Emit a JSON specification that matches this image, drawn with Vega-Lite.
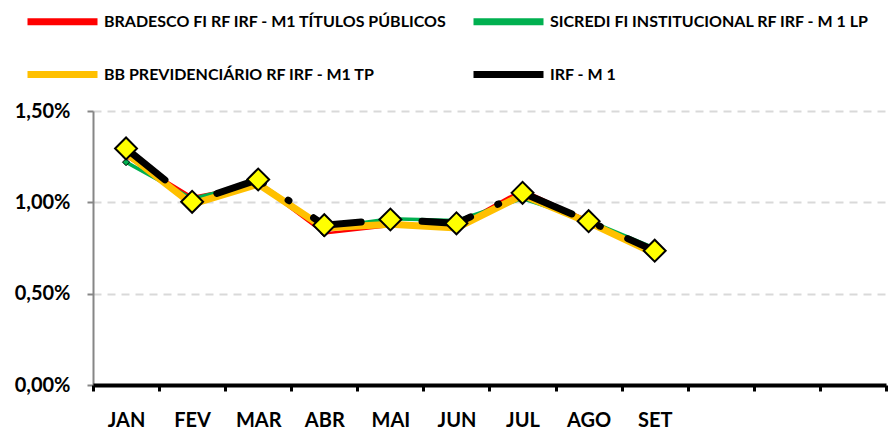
{
  "$schema": "https://vega.github.io/schema/vega-lite/v6.json",
  "autosize": "none",
  "width": 793,
  "height": 274,
  "padding": {"left": 93, "top": 111, "right": 2, "bottom": 45},
  "background": "white",
  "config": {
    "view": {"stroke": null},
    "font": "Lato, sans-serif"
  },
  "data": {
    "values": [
      {"m": "JAN", "s": "BRADESCO FI RF IRF - M1 TÍTULOS PÚBLICOS", "v": 0.0125},
      {"m": "FEV", "s": "BRADESCO FI RF IRF - M1 TÍTULOS PÚBLICOS", "v": 0.0103},
      {"m": "MAR", "s": "BRADESCO FI RF IRF - M1 TÍTULOS PÚBLICOS", "v": 0.0110},
      {"m": "ABR", "s": "BRADESCO FI RF IRF - M1 TÍTULOS PÚBLICOS", "v": 0.0083},
      {"m": "MAI", "s": "BRADESCO FI RF IRF - M1 TÍTULOS PÚBLICOS", "v": 0.0087},
      {"m": "JUN", "s": "BRADESCO FI RF IRF - M1 TÍTULOS PÚBLICOS", "v": 0.0087},
      {"m": "JUL", "s": "BRADESCO FI RF IRF - M1 TÍTULOS PÚBLICOS", "v": 0.0107},
      {"m": "AGO", "s": "BRADESCO FI RF IRF - M1 TÍTULOS PÚBLICOS", "v": 0.0090},
      {"m": "SET", "s": "BRADESCO FI RF IRF - M1 TÍTULOS PÚBLICOS", "v": 0.0071},
      {"m": "JAN", "s": "SICREDI FI INSTITUCIONAL RF IRF - M 1 LP", "v": 0.0122},
      {"m": "FEV", "s": "SICREDI FI INSTITUCIONAL RF IRF - M 1 LP", "v": 0.0102},
      {"m": "MAR", "s": "SICREDI FI INSTITUCIONAL RF IRF - M 1 LP", "v": 0.0111},
      {"m": "ABR", "s": "SICREDI FI INSTITUCIONAL RF IRF - M 1 LP", "v": 0.0086},
      {"m": "MAI", "s": "SICREDI FI INSTITUCIONAL RF IRF - M 1 LP", "v": 0.0091},
      {"m": "JUN", "s": "SICREDI FI INSTITUCIONAL RF IRF - M 1 LP", "v": 0.0090},
      {"m": "JUL", "s": "SICREDI FI INSTITUCIONAL RF IRF - M 1 LP", "v": 0.0102},
      {"m": "AGO", "s": "SICREDI FI INSTITUCIONAL RF IRF - M 1 LP", "v": 0.0090},
      {"m": "SET", "s": "SICREDI FI INSTITUCIONAL RF IRF - M 1 LP", "v": 0.0075},
      {"m": "JAN", "s": "BB PREVIDENCIÁRIO RF IRF - M1 TP", "v": 0.0127},
      {"m": "FEV", "s": "BB PREVIDENCIÁRIO RF IRF - M1 TP", "v": 0.0099},
      {"m": "MAR", "s": "BB PREVIDENCIÁRIO RF IRF - M1 TP", "v": 0.0110},
      {"m": "ABR", "s": "BB PREVIDENCIÁRIO RF IRF - M1 TP", "v": 0.0086},
      {"m": "MAI", "s": "BB PREVIDENCIÁRIO RF IRF - M1 TP", "v": 0.0088},
      {"m": "JUN", "s": "BB PREVIDENCIÁRIO RF IRF - M1 TP", "v": 0.0086},
      {"m": "JUL", "s": "BB PREVIDENCIÁRIO RF IRF - M1 TP", "v": 0.0104},
      {"m": "AGO", "s": "BB PREVIDENCIÁRIO RF IRF - M1 TP", "v": 0.0089},
      {"m": "SET", "s": "BB PREVIDENCIÁRIO RF IRF - M1 TP", "v": 0.0072},
      {"m": "JAN", "s": "IRF - M 1", "v": 0.01295},
      {"m": "FEV", "s": "IRF - M 1", "v": 0.01003},
      {"m": "MAR", "s": "IRF - M 1", "v": 0.01125},
      {"m": "ABR", "s": "IRF - M 1", "v": 0.00875},
      {"m": "MAI", "s": "IRF - M 1", "v": 0.00906},
      {"m": "JUN", "s": "IRF - M 1", "v": 0.00885},
      {"m": "JUL", "s": "IRF - M 1", "v": 0.01052},
      {"m": "AGO", "s": "IRF - M 1", "v": 0.00897},
      {"m": "SET", "s": "IRF - M 1", "v": 0.00735}
    ]
  },
  "encoding": {
    "x": {
      "field": "m",
      "type": "nominal",
      "bandPosition": 0.5,
      "scale": {
        "type": "band",
        "domain": ["JAN", "FEV", "MAR", "ABR", "MAI", "JUN", "JUL", "AGO", "SET", "OUT", "NOV", "DEZ"],
        "paddingInner": 0,
        "paddingOuter": 0
      },
      "axis": {
        "title": null,
        "labelAngle": 0,
        "labelExpr": "indexof(['OUT','NOV','DEZ'], datum.label) >= 0 ? '' : datum.label",
        "labelFont": "Lato, sans-serif",
        "labelFontSize": 20,
        "labelFontWeight": "bold",
        "labelColor": "#000000",
        "labelPadding": 19,
        "domainColor": "#000000",
        "domainWidth": 4,
        "tickColor": "#000000",
        "tickWidth": 3,
        "tickSize": 6,
        "tickBand": "extent",
        "grid": false,
        "zindex": 1
      }
    },
    "y": {
      "field": "v",
      "type": "quantitative",
      "scale": {"domain": [0, 0.015], "nice": false},
      "axis": {
        "title": null,
        "values": [0, 0.005, 0.01, 0.015],
        "labelExpr": "replace(format(datum.value, '.2%'), '.', ',')",
        "labelFont": "Lato, sans-serif",
        "labelFontSize": 20,
        "labelFontWeight": "bold",
        "labelColor": "#000000",
        "labelPadding": 17,
        "domainColor": "#868686",
        "domainWidth": 2,
        "tickColor": "#868686",
        "tickWidth": 2,
        "tickSize": 6,
        "grid": true,
        "gridColor": "#D9D9D9",
        "gridDash": [8, 6],
        "gridWidth": 2
      }
    }
  },
  "layer": [
    {
      "transform": [{"filter": "datum.s === 'BRADESCO FI RF IRF - M1 TÍTULOS PÚBLICOS'"}],
      "mark": {"type": "line", "strokeWidth": 2.5},
      "encoding": {
        "color": {
          "field": "s",
          "type": "nominal",
          "scale": {
            "domain": ["BRADESCO FI RF IRF - M1 TÍTULOS PÚBLICOS", "SICREDI FI INSTITUCIONAL RF IRF - M 1 LP", "BB PREVIDENCIÁRIO RF IRF - M1 TP", "IRF - M 1"],
            "range": ["#FF0000", "#00B050", "#FFC000", "#000000"]
          },
          "legend": {
            "title": null,
            "orient": "none",
            "legendX": -69,
            "legendY": -128,
            "direction": "horizontal",
            "columns": 2,
            "columnPadding": 11,
            "rowPadding": -30,
            "symbolType": "stroke",
            "symbolStrokeWidth": 7,
            "symbolSize": 4900,
            "labelOffset": 3,
            "labelFont": "Lato, sans-serif",
            "labelFontSize": 16,
            "labelFontWeight": "bold",
            "labelColor": "#000000",
            "labelLimit": 500
          }
        }
      }
    },
    {
      "transform": [{"filter": "datum.s === 'BRADESCO FI RF IRF - M1 TÍTULOS PÚBLICOS'"}],
      "mark": {"type": "point", "shape": "diamond", "filled": true, "fill": "#FF0000", "stroke": "#000000", "strokeWidth": 1, "size": 50, "opacity": 1}
    },
    {
      "transform": [{"filter": "datum.s === 'SICREDI FI INSTITUCIONAL RF IRF - M 1 LP'"}],
      "mark": {"type": "line", "strokeWidth": 3.5},
      "encoding": {"color": {"field": "s", "type": "nominal"}}
    },
    {
      "transform": [{"filter": "datum.s === 'SICREDI FI INSTITUCIONAL RF IRF - M 1 LP'"}],
      "mark": {"type": "point", "shape": "diamond", "filled": true, "fill": "#00B050", "stroke": "#000000", "strokeWidth": 1, "size": 50, "opacity": 1}
    },
    {
      "transform": [{"filter": "datum.s === 'BB PREVIDENCIÁRIO RF IRF - M1 TP'"}],
      "mark": {"type": "line", "strokeWidth": 7},
      "encoding": {"color": {"field": "s", "type": "nominal"}}
    },
    {
      "transform": [{"filter": "datum.s === 'BB PREVIDENCIÁRIO RF IRF - M1 TP'"}],
      "mark": {"type": "point", "shape": "diamond", "filled": true, "fill": "#FFC000", "stroke": "#000000", "strokeWidth": 1, "size": 50, "opacity": 1}
    },
    {
      "transform": [{"filter": "datum.s === 'IRF - M 1'"}],
      "mark": {"type": "line", "strokeWidth": 7, "strokeDash": [50, 30, 1, 30], "strokeCap": "round"},
      "encoding": {"color": {"field": "s", "type": "nominal"}}
    },
    {
      "transform": [{"filter": "datum.s === 'IRF - M 1'"}],
      "mark": {"type": "point", "shape": "diamond", "filled": true, "fill": "#FFFF00", "stroke": "#000000", "strokeWidth": 2, "size": 480, "opacity": 1}
    }
  ]
}
